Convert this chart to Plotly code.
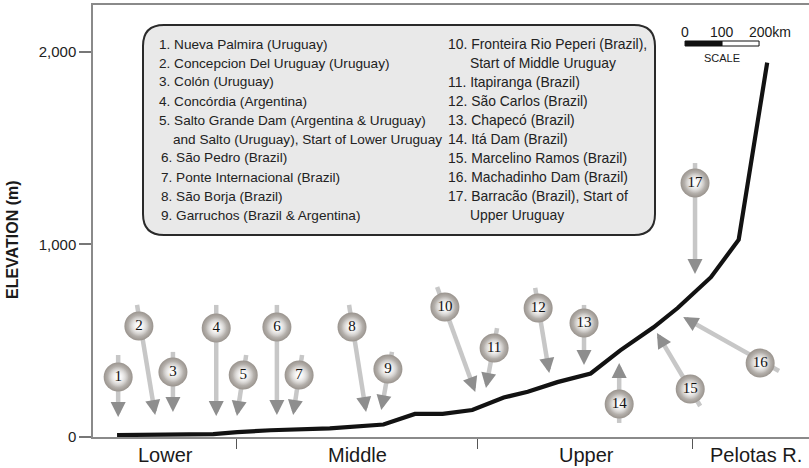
import plotly.graph_objects as go

# ---------------- data ----------------
distance_km = [0, 260, 325, 415, 575, 720, 805, 880, 960, 1045, 1110, 1190,
               1280, 1360, 1450, 1515, 1605, 1680, 1757]
elevation_m = [10, 15, 25, 35, 45, 65, 120, 120, 140, 205, 235, 285,
               330, 450, 570, 670, 830, 1025, 1945]

site_no = list(range(1, 18))
site_km = [3, 59, 151, 268, 341, 432, 492, 635, 732, 886, 1019, 1138, 1262, 1357, 1549, 1738, 1562]
site_m = [312, 577, 338, 566, 322, 571, 322, 571, 353, 675, 462, 670, 592, 171, 249, 384, 1320]
tail_km = [3, 54, 151, 268, 349, 432, 500, 627, 743, 865, 1027, 1130, 1262, 1357, 1576, 1789, 1562]
tail_m = [426, 686, 442, 686, 426, 686, 426, 686, 442, 779, 566, 774, 686, 73, 161, 343, 1423]
tip_km = [3, 103, 151, 268, 324, 432, 476, 673, 714, 968, 997, 1168, 1262, 1357, 1459, 1530, 1562]
tip_m = [104, 114, 130, 109, 109, 114, 114, 130, 140, 234, 255, 332, 374, 384, 540, 623, 847]

section_names = ["Lower", "Middle", "Upper", "Pelotas R."]
section_label_km = [130, 649, 1268, 1727]
section_bounds_km = [322, 973, 1554]

y_ticks = [0, 1000, 2000]
y_tick_text = ["0", "1,000", "2,000"]

legend_left = [
    "1. Nueva Palmira (Uruguay)",
    "2. Concepcion Del Uruguay (Uruguay)",
    "3. Colón (Uruguay)",
    "4. Concórdia (Argentina)",
    "5. Salto Grande Dam (Argentina & Uruguay)",
    "and Salto (Uruguay), Start of Lower Uruguay",
    "6. São Pedro (Brazil)",
    "7. Ponte Internacional (Brazil)",
    "8. São Borja (Brazil)",
    "9. Garruchos (Brazil & Argentina)",
]
legend_right = [
    "10. Fronteira Rio Peperi (Brazil),",
    "Start of Middle Uruguay",
    "11. Itapiranga (Brazil)",
    "12. São Carlos (Brazil)",
    "13. Chapecó (Brazil)",
    "14. Itá Dam (Brazil)",
    "15. Marcelino Ramos (Brazil)",
    "16. Machadinho Dam (Brazil)",
    "17. Barracão (Brazil), Start of",
    "Upper Uruguay",
]
scale_km = [0, 100, 200]

# ---------------- layout geometry ----------------
W, H = 809, 468
ML, MR, MT, MB = 93, 0, 5, 31
PW, PH = W - ML - MR, H - MT - MB
XR = [-65, 1870]
YR = [0, 2244]
kx = PW / (XR[1] - XR[0])
ky = PH / (YR[1] - YR[0])


def px(xp):
    return (xp - ML) / PW


def py(yp):
    return (H - MB - yp) / PH


SANS = "Liberation Sans, Arial, sans-serif"
SERIF = "Liberation Serif, Times New Roman, serif"

fig = go.Figure()

# elevation profile
fig.add_trace(go.Scatter(x=distance_km, y=elevation_m, mode="lines",
                         line=dict(color="#121212", width=4.2),
                         hoverinfo="skip", showlegend=False))

# arrow shafts
sx, sy = [], []
heads = []
for i in range(len(site_no)):
    dxp = (tip_km[i] - tail_km[i]) * kx
    dyp = (tip_m[i] - tail_m[i]) * ky
    L = (dxp ** 2 + dyp ** 2) ** 0.5
    ux, uy = dxp / L, dyp / L
    sx += [tail_km[i], tip_km[i] - ux * 6 / kx, None]
    sy += [tail_m[i], tip_m[i] - uy * 6 / ky, None]
    heads.append((tip_km[i] - ux * 9 / kx, tip_m[i] - uy * 9 / ky))

fig.add_trace(go.Scatter(x=sx, y=sy, mode="lines",
                         line=dict(color="#c7c7c7", width=4.5),
                         hoverinfo="skip", showlegend=False))

# site circles (sphere look: gray rim + bright centre)
fig.add_trace(go.Scatter(
    x=site_km, y=site_m, mode="markers",
    marker=dict(size=29, color="#99938d",
                gradient=dict(type="radial", color="#ffffff"),
                line=dict(width=0)),
    hoverinfo="skip", showlegend=False))
fig.add_trace(go.Scatter(
    x=site_km, y=site_m, mode="markers+text",
    text=[str(n) for n in site_no], textposition="middle center",
    textfont=dict(family=SERIF, size=15, color="#111111"),
    marker=dict(size=21, color="rgba(255,255,255,0)",
                gradient=dict(type="radial", color="rgba(255,255,255,0.95)"),
                line=dict(width=0)),
    hoverinfo="skip", showlegend=False))

annotations = []
for i in range(len(site_no)):
    annotations.append(dict(
        x=tip_km[i], y=tip_m[i], ax=heads[i][0], ay=heads[i][1],
        xref="x", yref="y", axref="x", ayref="y", text="",
        showarrow=True, arrowhead=2, arrowsize=0.75, arrowwidth=4,
        arrowcolor="#8e8e8e", standoff=0))

# section labels
for name, xk in zip(section_names, section_label_km):
    annotations.append(dict(x=xk, y=py(455), xref="x", yref="paper",
                            text=name, showarrow=False, xanchor="center",
                            yanchor="middle",
                            font=dict(family=SANS, size=20, color="#1a1a1a")))

# y title
annotations.append(dict(x=px(13), y=py(240), xref="paper", yref="paper",
                        text="<b>ELEVATION (m)</b>", textangle=-90,
                        showarrow=False, xanchor="center", yanchor="middle",
                        font=dict(family=SANS, size=16, color="#1a1a1a")))

# legend box text
for j, line in enumerate(legend_left):
    xpix = 157 if j < 5 else 159
    if j == 5:
        xpix = 171
    annotations.append(dict(x=px(xpix), y=py(44 + 19 * j), xref="paper", yref="paper",
                            text=line, showarrow=False, xanchor="left", yanchor="middle",
                            font=dict(family=SANS, size=13.6, color="#222222")))
for j, line in enumerate(legend_right):
    xpix = 446
    if j in (1, 9):
        xpix = 468
    annotations.append(dict(x=px(xpix), y=py(44 + 19 * j), xref="paper", yref="paper",
                            text=line, showarrow=False, xanchor="left", yanchor="middle",
                            font=dict(family=SANS, size=13.9, color="#222222")))

# scale bar
s0 = 1535
annotations.append(dict(x=s0 + scale_km[0], y=py(32), xref="x", yref="paper", text=str(scale_km[0]),
                        showarrow=False, xanchor="center", yanchor="middle",
                        font=dict(family=SANS, size=14, color="#1a1a1a")))
annotations.append(dict(x=s0 + scale_km[1], y=py(32), xref="x", yref="paper", text=str(scale_km[1]),
                        showarrow=False, xanchor="center", yanchor="middle",
                        font=dict(family=SANS, size=14, color="#1a1a1a")))
annotations.append(dict(x=s0 + scale_km[2] - 32, y=py(32), xref="x", yref="paper",
                        text=str(scale_km[2]) + "km",
                        showarrow=False, xanchor="left", yanchor="middle",
                        font=dict(family=SANS, size=14, color="#1a1a1a")))
annotations.append(dict(x=s0 + scale_km[1], y=py(58), xref="x", yref="paper", text="SCALE",
                        showarrow=False, xanchor="center", yanchor="middle",
                        font=dict(family=SANS, size=11, color="#1a1a1a")))

shapes = []
# rounded legend box
Lb, Rb, Tb, Bb, r = 143, 655, 25, 235, 21
path = (f"M {px(Lb + r)},{py(Tb)} L {px(Rb - r)},{py(Tb)} "
        f"Q {px(Rb)},{py(Tb)} {px(Rb)},{py(Tb + r)} L {px(Rb)},{py(Bb - r)} "
        f"Q {px(Rb)},{py(Bb)} {px(Rb - r)},{py(Bb)} L {px(Lb + r)},{py(Bb)} "
        f"Q {px(Lb)},{py(Bb)} {px(Lb)},{py(Bb - r)} L {px(Lb)},{py(Tb + r)} "
        f"Q {px(Lb)},{py(Tb)} {px(Lb + r)},{py(Tb)} Z")
shapes.append(dict(type="path", path=path, xref="paper", yref="paper",
                   fillcolor="#e9e9e9", line=dict(color="#2a2a2a", width=2),
                   layer="below"))
shapes.append(dict(type="rect", xref="x", yref="paper", x0=s0, x1=s0 + scale_km[1],
                   y0=py(46), y1=py(41), fillcolor="#111111",
                   line=dict(color="#111111", width=1)))
shapes.append(dict(type="rect", xref="x", yref="paper", x0=s0 + scale_km[1], x1=s0 + scale_km[2],
                   y0=py(46), y1=py(41), fillcolor="#ffffff",
                   line=dict(color="#111111", width=1)))

fig.update_layout(
    width=W, height=H,
    margin=dict(l=ML, r=MR, t=MT, b=MB),
    paper_bgcolor="white", plot_bgcolor="white",
    showlegend=False,
    annotations=annotations, shapes=shapes,
    xaxis=dict(range=XR, showgrid=False, zeroline=False,
               showline=True, mirror=True, linecolor="#8a8a8a", linewidth=1.5,
               tickvals=section_bounds_km, ticks="outside", ticklen=10,
               tickcolor="#555555", tickwidth=1.2, showticklabels=False),
    yaxis=dict(range=YR, showgrid=False, zeroline=False,
               showline=True, linecolor="#8a8a8a", linewidth=1.5,
               tickvals=y_ticks, ticktext=y_tick_text, ticks="outside",
               ticklen=12, tickcolor="#777777", tickwidth=1.5,
               tickfont=dict(family=SANS, size=15, color="#222222")),
)

fig.write_html("out.html", config={"displayModeBar": False},
               post_script="document.body.style.margin='0';document.body.style.overflow='hidden';")
